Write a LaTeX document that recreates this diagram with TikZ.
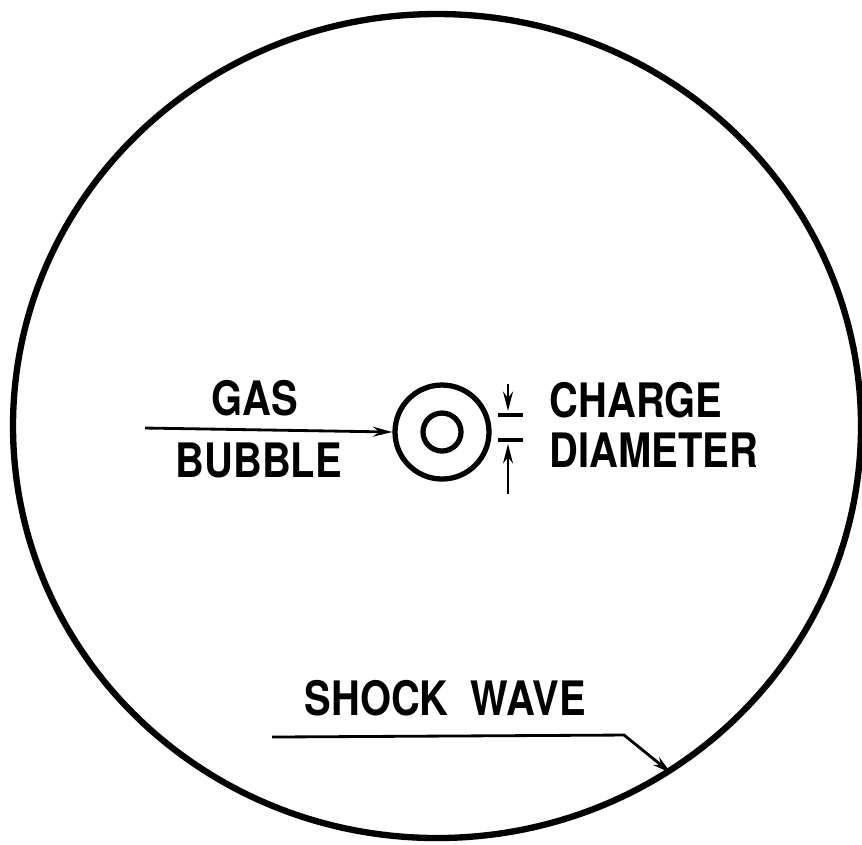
\documentclass[tikz,border=0pt]{standalone}
\usepackage{fontspec}
\setmainfont[FakeStretch=0.84]{TeX Gyre Heros}
\usetikzlibrary{arrows.meta, positioning, shapes.geometric}

\begin{document}
\begin{tikzpicture}[x=0.01cm, y=-0.01cm,
    label/.style={anchor=base west, inner sep=0pt, font=\fontsize{13.5}{16}\selectfont\bfseries},
    ring/.style={circle, draw, line width=1.5pt, inner sep=0pt},
    tick/.style={line width=0.9pt},
    arrow/.style={-{Stealth[length=5.5pt, width=2.8pt]}, line width=0.8pt}]

    \useasboundingbox (0,0) rectangle (862,844);

    % Shock wave and charge
    \node [ellipse, draw, line width=1.8pt, minimum width=848*0.01cm, minimum height=824*0.01cm, inner sep=0pt] (shock) at (437,426) {};
    \node [ring, minimum size=94*0.01cm] (bubble) at (442,432) {};
    \node [ring, minimum size=38*0.01cm] (charge) at (442,432) {};

    % Labels
    \node [label] (gas) at (211,415) {GAS};
    \node [label] (bubbletxt) at (175,477) {BUBBLE};
    \node [label] (chargetxt) at (549,417) {CHARGE};
    \node [label] (diamtxt) at (549,467) {DIAMETER};
    \node [label] (shocktxt) at (304,715) {SHOCK\ \ WAVE};

    % Diameter marks
    \coordinate (uptop) at (508,384);
    \coordinate (uptick) at (508,411);
    \coordinate (lowtick) at (508,444);
    \coordinate (lowbot) at (508,494);
    \draw [tick] (498,415) -- (523,415);
    \draw [tick] (498,440) -- (523,440);
    \draw [arrow] (uptop) -- (uptick);
    \draw [arrow] (lowbot) -- (lowtick);

    % Arrows
    \coordinate (gasstart) at (145,428);
    \draw [arrow] (gasstart) -- (bubble.west);
    \coordinate (shockstart) at (272,737);
    \coordinate (bend) at (624,735);
    \draw [arrow] (shockstart) -- (bend) -- (shock.-56);

\end{tikzpicture}
\end{document}
